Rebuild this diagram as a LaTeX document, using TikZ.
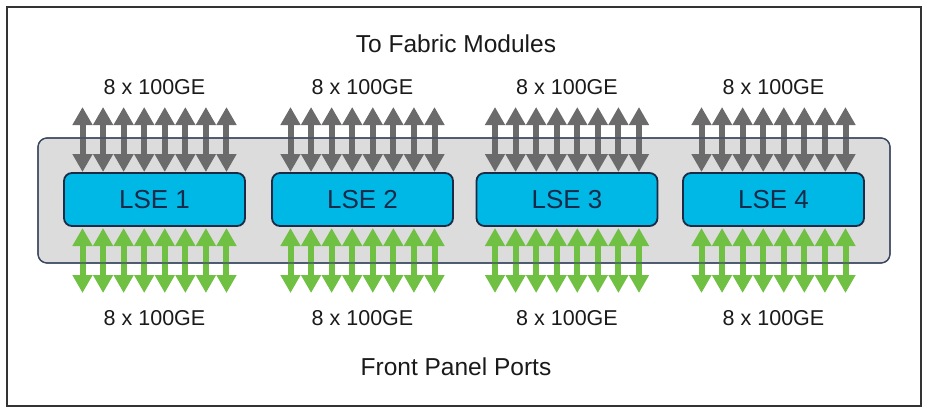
\documentclass[tikz,border=0pt]{standalone}
\usepackage{fontspec}
\setmainfont{Liberation Sans}
\usetikzlibrary{arrows.meta}
\definecolor{framec}{HTML}{333333}
\definecolor{chassisfill}{HTML}{DCDCDC}
\definecolor{chassisline}{HTML}{3A4860}
\definecolor{lsefill}{HTML}{00B8E6}
\definecolor{lseline}{HTML}{1C2A45}
\definecolor{lsetext}{HTML}{1A2A48}
\definecolor{fabarrow}{HTML}{6B6B6B}
\definecolor{portarrow}{HTML}{70C044}
\definecolor{labeltext}{HTML}{1A1A1A}
\begin{document}
\begin{tikzpicture}[x=1pt,y=-1pt,
  frame/.style={draw=framec,line width=2.4pt},
  chassis/.style={draw=chassisline,fill=chassisfill,line width=1.2pt,rounded corners=9pt,minimum width=852pt,minimum height=125pt,inner sep=0pt},
  lse/.style={draw=lseline,fill=lsefill,line width=1.8pt,rounded corners=8pt,minimum width=181pt,minimum height=53pt,inner sep=0pt,text=lsetext,font=\fontsize{26}{31}\selectfont},
  lbl/.style={text=labeltext,inner sep=0pt,font=\fontsize{21.5}{26}\selectfont},
  title/.style={text=labeltext,inner sep=0pt,font=\fontsize{24.5}{29}\selectfont},
  dbl/.style={line width=6pt,{Triangle[width=19pt,length=18pt]}-{Triangle[width=19pt,length=18pt]}},
  fab/.style={dbl,draw=fabarrow},
  port/.style={dbl,draw=portarrow}]
\useasboundingbox (0,0) rectangle (929,416);
\draw[frame] (7,7) rectangle (921,406);
\node[chassis] (chassis) at (464,200.5) {};
\node[title] (fabric) at (456,44) {To Fabric Modules};
\node[title] (front) at (456,367) {Front Panel Ports};
\foreach \i/\cx in {1/154.5,2/362.5,3/567,4/773.5}{
  \node[lbl] (top\i) at (\cx,87) {8 x 100GE};
  \node[lbl] (bot\i) at (\cx,318) {8 x 100GE};
  \foreach \j in {0,...,7}{
    \pgfmathsetmacro{\ax}{\cx-72+\j*20.571}
    \coordinate (ft\i\j) at (\ax,107);
    \coordinate (fb\i\j) at (\ax,172);
    \coordinate (pt\i\j) at (\ax,228);
    \coordinate (pb\i\j) at (\ax,293);
    \draw[fab] (ft\i\j) -- (fb\i\j);
    \draw[port] (pt\i\j) -- (pb\i\j);
  }
}
\node[chassis,fill=none] (chassisedge) at (chassis.center) {};
\foreach \i/\cx in {1/154.5,2/362.5,3/567,4/773.5}{
  \node[lse] (lse\i) at (\cx,199.5) {LSE \i};
}
\end{tikzpicture}
\end{document}
